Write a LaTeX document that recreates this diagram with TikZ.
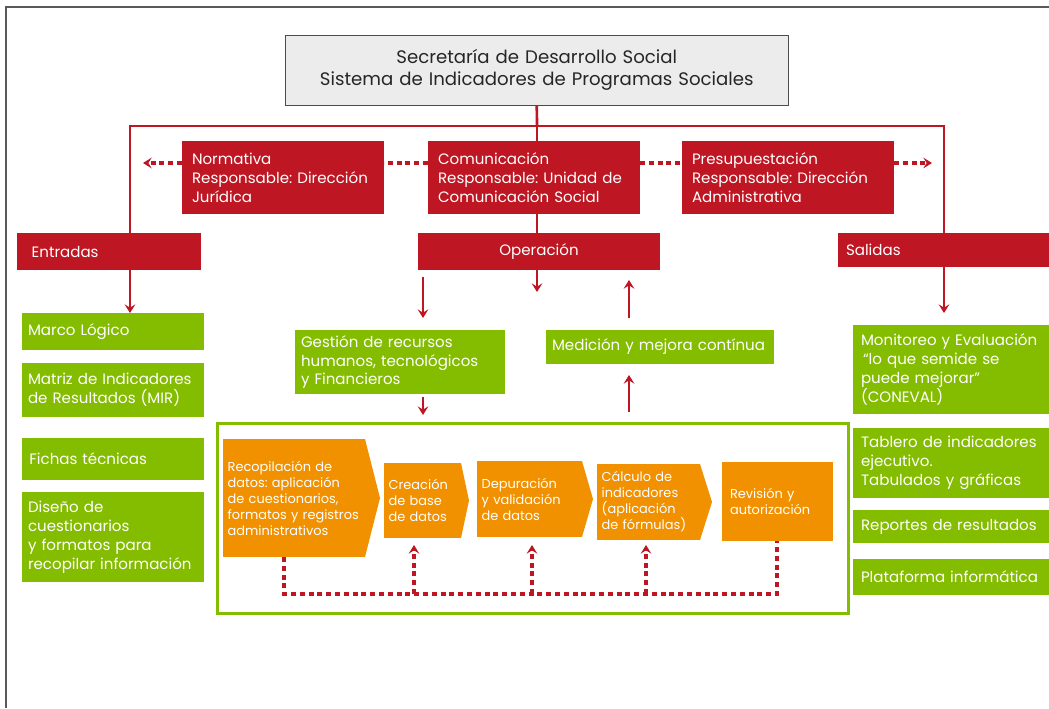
\documentclass[tikz,border=0pt]{standalone}
\usepackage{fontspec}
\setmainfont{Poppins}
\usetikzlibrary{arrows.meta,calc}
\definecolor{sred}{HTML}{BE1622}
\definecolor{sgreen}{HTML}{84BC00}
\definecolor{sorange}{HTML}{F29100}
\definecolor{sgray}{HTML}{ECECEC}
\pgfdeclarelayer{bg}
\pgfsetlayers{bg,main}
\frenchspacing
\hyphenpenalty=10000
\begin{document}
\begin{tikzpicture}[x=0.75pt,y=-0.75pt,
  sz/.style 2 args={minimum width=#1*0.75pt, minimum height=#2*0.75pt,
     text width=#1*0.75pt-2*\pgfkeysvalueof{/pgf/inner xsep}},
  box/.style={rectangle, inner ysep=0pt, outer sep=0pt, anchor=north west, align=left, text=white},
  rb/.style={box, fill=sred, font=\fontsize{11.3}{14.2}\selectfont, inner xsep=7.5pt},
  gb/.style={box, fill=sgreen, font=\fontsize{11.3}{14.2}\selectfont, inner xsep=4.5pt},
  ob/.style={box, fill=sorange, font=\fontsize{9.7}{12}\selectfont, inner xsep=3.5pt},
  rl/.style={draw=sred, line width=2pt},
  dl/.style={draw=sred, line width=2.6pt, dash pattern=on 3.8pt off 2.8pt},
  tip/.style={-{Stealth[length=6.5pt,width=8pt,inset=2.5pt]}},
]
\useasboundingbox (0,0) rectangle (1049,708);
\draw[gray!70!black, line width=1.2pt] (6,708) -- (6,7) -- (1049,7);

% top
\node[draw=gray!60!black, fill=sgray, sz={503}{70}, anchor=north west, align=center,
  inner sep=0pt, text=black!85, font=\fontsize{13.6}{16.5}\selectfont] (top) at (285,35)
  {Secretaría de Desarrollo Social\\Sistema de Indicadores de Programas Sociales};

% red boxes
\node[rb, sz={202}{73}] (norm) at (182,141) {Normativa\\Responsable: Dirección\\Jurídica};
\node[rb, sz={212}{73}] (com) at (428,141) {Comunicación\\Responsable: Unidad de\\Comunicación Social};
\node[rb, sz={212}{73}] (pre) at (682,141) {Presupuestación\\Responsable: Dirección\\Administrativa};
\node[rb, sz={184}{37}, inner xsep=11pt] (ent) at (17,233) {Entradas};
\node[rb, sz={242}{37}, align=center] (ope) at (418,233) {Operación};
\node[rb, sz={211}{34}, inner xsep=6pt] (sal) at (838,233) {Salidas};

% green boxes left
\node[gb, sz={182}{37}] (marco) at (22,313) {Marco Lógico};
\node[gb, sz={182}{54}] (mir) at (22,363) {Matriz de Indicadores\\de Resultados (MIR)};
\node[gb, sz={182}{42}] (fichas) at (22,438) {\hspace{1pt}Fichas técnicas};
\node[gb, sz={182}{90}] (dis) at (22,492) {Diseño de\\cuestionarios\\y formatos para\\recopilar información};

% green boxes right
\node[gb, sz={196}{89}, inner xsep=6pt] (mon) at (853,325) {Monitoreo y Evaluación\\\hspace{1.5pt}“lo que semide se\\puede mejorar”\\(CONEVAL)};
\node[gb, sz={196}{70}, inner xsep=6pt] (tab) at (853,428) {Tablero de indicadores\\ejecutivo.\\Tabulados y gráficas};
\node[gb, sz={196}{33}, inner xsep=6pt] (rep) at (853,510) {Reportes de resultados};
\node[gb, sz={196}{36}, inner xsep=6pt] (plat) at (853,559) {Plataforma informática};

% green middle
\node[gb, sz={210}{64}] (ges) at (295,330) {Gestión de recursos\\humanos, tecnológicos\\y Financieros};
\node[gb, sz={228}{34}] (med) at (546,330) {Medición y mejora contínua};

% frame
\node[draw=sgreen, line width=2.2pt, sz={631}{190}, anchor=north west, inner sep=0pt] (frame) at (216,422) {};

% orange process
\node[ob, sz={140}{118}, text width=99.5pt] (rec) at (223,439) {Recopilación de\\datos: aplicación\\de cuestionarios,\\formatos y registros\\administrativos};
\fill[sorange] (rec.north east) -- ($(rec.east)+(15,0)$) -- (rec.south east) -- cycle;
\node[ob, sz={77}{75}] (cre) at (384,463) {Creación\\de base\\de datos};
\fill[sorange] (cre.north east) -- ($(cre.east)+(8,0)$) -- (cre.south east) -- cycle;
\node[ob, sz={105}{76}] (dep) at (477,461) {Depuración\\y validación\\de datos};
\fill[sorange] (dep.north east) -- ($(dep.east)+(11,0)$) -- (dep.south east) -- cycle;
\node[ob, sz={103}{76}] (cal) at (597,464) {Cálculo de\\indicadores\\(aplicación\\de fórmulas)};
\fill[sorange] (cal.north east) -- ($(cal.east)+(12,0)$) -- (cal.south east) -- cycle;
\node[ob, sz={111}{79}, inner xsep=6pt] (rev) at (722,462) {Revisión y\\autorización};

% coordinates
\coordinate (jn) at (537,126);
\coordinate (lt) at (130,313);
\coordinate (rt) at (944,313);
\coordinate (mt) at (537,292);
\coordinate (o1) at (423,277);
\coordinate (o2) at (423,318);
\coordinate (u1) at (629,318);
\coordinate (u2) at (629,280);
\coordinate (g1) at (423,397);
\coordinate (g2) at (423,415);
\coordinate (m1) at (629,412);
\coordinate (m2) at (629,375);
\coordinate (nl) at (143,163);
\coordinate (pr) at (932,163);
\coordinate (fb) at (0,594);
\coordinate (t1) at (414,545);
\coordinate (t2) at (532,545);
\coordinate (t3) at (646,545);

\begin{pgfonlayer}{bg}
\draw[rl] (top.south) -- (jn);
\draw[rl,tip] (jn) -| (lt);
\draw[rl,tip] (jn) -| (rt);
\draw[rl,tip] (jn) -- (mt);
\end{pgfonlayer}

\draw[rl,tip] (o1) -- (o2);
\draw[rl,tip] (u1) -- (u2);
\draw[rl,tip] (g1) -- (g2);
\draw[rl,tip] (m1) -- (m2);

\draw[dl,tip] (norm.west |- nl) -- (nl);
\draw[dl] (com.west |- nl) -- (norm.east |- nl);
\draw[dl] (com.east |- nl) -- (pre.west |- nl);
\draw[dl,tip] (pre.east |- pr) -- (pr);

\draw[dl] ($(rec.south west)+(61,0)$) -- ($(rec.south west)+(61,37)$) -| ($(rev.south west)+(55,0)$);
\draw[dl,tip] (t1 |- fb) -- (t1);
\draw[dl,tip] (t2 |- fb) -- (t2);
\draw[dl,tip] (t3 |- fb) -- (t3);
\end{tikzpicture}
\end{document}
